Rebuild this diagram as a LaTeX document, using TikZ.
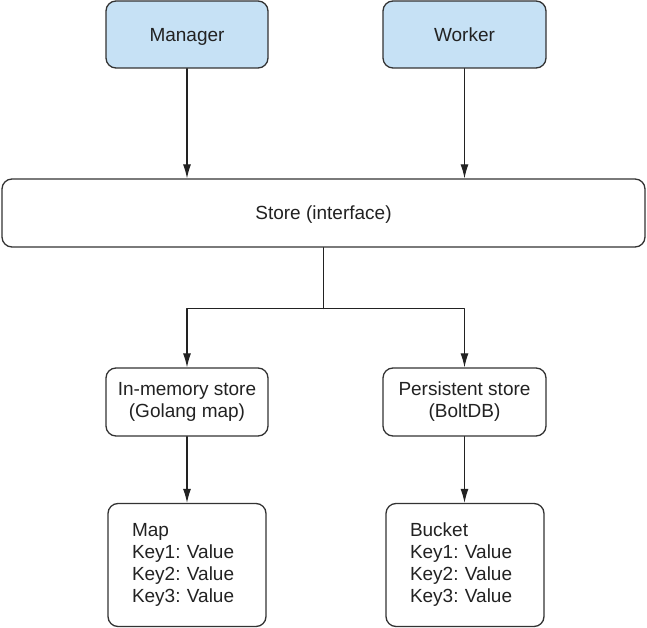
\documentclass[tikz,border=0pt]{standalone}
\usepackage{fontspec}
\setmainfont{Liberation Sans}
\frenchspacing
\usetikzlibrary{arrows.meta,calc,positioning}
\definecolor{STblue}{HTML}{C6E1F5}
\definecolor{STink}{HTML}{222222}
\definecolor{STedge}{HTML}{333333}

\begin{document}
\begin{tikzpicture}[
  x=1pt,y=-1pt,
  font=\fontsize{19}{22}\selectfont,
  line cap=round,line join=round,
  flow/.style={draw=STink,line width=1.1pt,-{Latex[length=14pt,width=8pt]}},
  box/.style={draw=STedge,line width=1.3pt,rounded corners=10pt,fill=white,
    align=center,inner sep=0pt,text=STink},
  oneline/.style={text height=14pt,text depth=0pt},
  actor/.style={box,oneline,fill=STblue},
  listbox/.style={box,align=left,inner xsep=24pt,text width=110pt}
]

% pixel grid of the reference, origin top left
\useasboundingbox (0,0) rectangle (647,628);

\node[actor,minimum width=162,minimum height=67] (manager) at (187,34.5) {Manager};
\node[actor,minimum width=163,minimum height=67] (worker) at (464.5,34.5) {Worker};

\node[box,oneline,minimum width=643,minimum height=68] (store) at (323.5,213) {Store (interface)};

\node[box,minimum width=162,minimum height=68] (inmem) at (187,402)
  {In-memory store\\(Golang map)};
\node[box,minimum width=163,minimum height=68] (persist) at (464.5,402)
  {Persistent store\\(BoltDB)};

\node[listbox,minimum width=158,minimum height=123] (map) at (187,565)
  {Map\\Key1: Value\\Key2: Value\\Key3: Value};
\node[listbox,minimum width=156,minimum height=123] (bucket) at (465,565)
  {Bucket\\Key1: Value\\Key2: Value\\Key3: Value};

\draw[flow] (manager.south) -- (manager.south |- store.north);
\draw[flow] (worker.south) -- (worker.south |- store.north);

\coordinate (split) at ($(store.south)+(0,61)$);
\draw[draw=STink,line width=1.1pt] (store.south) -- (split);
\draw[flow] (split) -| (inmem.north);
\draw[flow] (split) -| (persist.north);

\draw[flow] (inmem.south) -- (map.north);
\draw[flow] (persist.south) -- (persist.south |- bucket.north);

\end{tikzpicture}
\end{document}
